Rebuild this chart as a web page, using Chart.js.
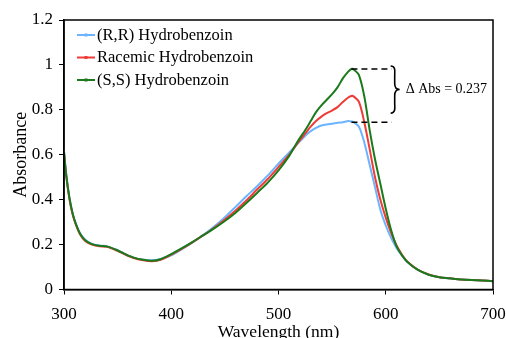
<!DOCTYPE html>
<html>
<head>
<meta charset="utf-8">
<script src="https://cdn.jsdelivr.net/npm/chart.js@4/dist/chart.umd.min.js"></script>
<style>
html,body{margin:0;padding:0;background:#fff;}
#wrap{width:506px;height:338px;position:relative;}
</style>
</head>
<body>
<div id="wrap"><canvas id="c" width="506" height="338"></canvas></div>
<script>
const wavelengths = [300,302,305,308,311,315,320,326,333,340,348,356,365,374,382,390,400,410,420,430,440,450,460,470,480,490,500,510,515,520,525,530,535,540,545,550,555,560,565,568,570,575,580,585,590,595,600,605,610,615,620,630,640,650,660,670,680,690,700];
const rrValues = [0.62,0.52,0.41,0.34,0.295,0.25,0.22,0.203,0.196,0.192,0.178,0.16,0.142,0.132,0.13,0.136,0.152,0.18,0.21,0.243,0.28,0.322,0.368,0.415,0.46,0.508,0.56,0.61,0.635,0.66,0.685,0.705,0.72,0.73,0.735,0.738,0.742,0.745,0.75,0.748,0.745,0.725,0.655,0.555,0.455,0.355,0.285,0.23,0.185,0.152,0.123,0.087,0.066,0.055,0.049,0.045,0.042,0.04,0.037];
const racemicValues = [0.61,0.51,0.405,0.335,0.29,0.245,0.215,0.2,0.192,0.19,0.176,0.158,0.14,0.13,0.126,0.132,0.155,0.182,0.211,0.242,0.275,0.312,0.352,0.396,0.445,0.492,0.545,0.6,0.633,0.665,0.695,0.725,0.75,0.77,0.785,0.797,0.812,0.835,0.855,0.862,0.86,0.835,0.745,0.625,0.5,0.4,0.32,0.252,0.197,0.156,0.125,0.088,0.067,0.055,0.05,0.045,0.042,0.04,0.037];
const ssValues = [0.61,0.51,0.41,0.34,0.292,0.248,0.218,0.202,0.195,0.192,0.178,0.16,0.142,0.132,0.128,0.135,0.158,0.184,0.212,0.242,0.272,0.305,0.342,0.385,0.43,0.476,0.53,0.595,0.636,0.675,0.71,0.75,0.79,0.82,0.845,0.87,0.9,0.94,0.97,0.982,0.98,0.955,0.86,0.71,0.58,0.47,0.36,0.265,0.193,0.153,0.124,0.087,0.066,0.055,0.05,0.045,0.042,0.04,0.037];
const seriesLabels = ['(R,R) Hydrobenzoin','Racemic Hydrobenzoin','(S,S) Hydrobenzoin'];
const seriesColors = ['#6CB4FF','#EE3B36','#1B7A1B'];
const xTicks = [300,400,500,600,700];
const yTicks = [0,0.2,0.4,0.6,0.8,1,1.2];
const deltaLabel = '\u0394 Abs = 0.237';
const deltaTop = 0.982, deltaBottom = 0.745, deltaX0 = 568, deltaX1 = 605.5;

const FONT = "'Liberation Serif','Times New Roman',serif";

function mk(vals){ return wavelengths.map((w,i)=>({x:w,y:vals[i]})); }

const legendPlugin = {
  id:'inLegend',
  afterDraw(chart){
    const ctx = chart.ctx;
    ctx.save();
    const x0 = 77, x1 = 95, ys = [35,57.5,80];
    chart.data.datasets.forEach((ds,i)=>{
      ctx.strokeStyle = ds.borderColor; ctx.lineWidth = 2;
      ctx.beginPath(); ctx.moveTo(x0,ys[i]); ctx.lineTo(x1,ys[i]); ctx.stroke();
      ctx.fillStyle = ds.borderColor;
      ctx.fillRect((x0+x1)/2-1.5, ys[i]-1.5, 3, 3);
      ctx.fillStyle = '#000';
      ctx.font = '16.5px ' + FONT;
      ctx.textBaseline = 'middle'; ctx.textAlign = 'left';
      ctx.fillText(ds.label, 97, ys[i]+0.5);
    });
    ctx.restore();
  }
};

const annotPlugin = {
  id:'annot',
  afterDatasetsDraw(chart){
    const ctx = chart.ctx, xs = chart.scales.x, ys = chart.scales.y, a = chart.chartArea;
    ctx.save();
    ctx.strokeStyle = '#000'; ctx.lineWidth = 1.5;
    ctx.strokeRect(a.left, a.top, a.right - a.left, a.bottom - a.top);
    const xa = xs.getPixelForValue(deltaX0), xb = xs.getPixelForValue(deltaX1);
    const yt = ys.getPixelForValue(deltaTop), yb = ys.getPixelForValue(deltaBottom);
    ctx.setLineDash([6,4]); ctx.lineWidth = 1.5; ctx.strokeStyle = '#000';
    ctx.beginPath(); ctx.moveTo(xa,yt); ctx.lineTo(xb,yt); ctx.moveTo(xa,yb); ctx.lineTo(xb,yb); ctx.stroke();
    ctx.setLineDash([]);
    const bx = xb - 1, top = yt - 3, bot = yb - 9, mid = (top+bot)/2, w = 9;
    ctx.lineWidth = 1.6;
    ctx.beginPath();
    ctx.moveTo(bx, top);
    ctx.bezierCurveTo(bx+w*0.6, top, bx+w*0.45, top+6, bx+w*0.45, top+10);
    ctx.lineTo(bx+w*0.45, mid-6);
    ctx.bezierCurveTo(bx+w*0.45, mid-2, bx+w*0.7, mid, bx+w, mid);
    ctx.bezierCurveTo(bx+w*0.7, mid, bx+w*0.45, mid+2, bx+w*0.45, mid+6);
    ctx.lineTo(bx+w*0.45, bot-10);
    ctx.bezierCurveTo(bx+w*0.45, bot-6, bx+w*0.6, bot, bx, bot);
    ctx.stroke();
    ctx.fillStyle = '#000';
    ctx.font = '14px ' + FONT;
    ctx.textAlign = 'left'; ctx.textBaseline = 'middle';
    ctx.fillText(deltaLabel, bx + w + 6, mid);
    ctx.restore();
  }
};

new Chart(document.getElementById('c'), {
  type:'line',
  data:{
    datasets:[
      {label:seriesLabels[0], data:mk(rrValues), borderColor:seriesColors[0], backgroundColor:seriesColors[0], order:2},
      {label:seriesLabels[1], data:mk(racemicValues), borderColor:seriesColors[1], backgroundColor:seriesColors[1], order:1},
      {label:seriesLabels[2], data:mk(ssValues), borderColor:seriesColors[2], backgroundColor:seriesColors[2], order:0}
    ]
  },
  options:{
    responsive:false, animation:false, devicePixelRatio:1,
    layout:{padding:{top:20,right:13,left:0,bottom:0}},
    elements:{line:{borderWidth:2,tension:0.3}, point:{radius:0}},
    plugins:{legend:{display:false}, tooltip:{enabled:false}},
    scales:{
      x:{
        type:'linear', min:300, max:700,
        afterBuildTicks(s){ s.ticks = xTicks.map(v=>({value:v})); },
        afterFit(s){ s.height = 48.5; s.paddingLeft = 0; s.paddingRight = 0; },
        grid:{display:true, drawOnChartArea:false, drawTicks:true, tickLength:5, color:'#000', lineWidth:1},
        border:{display:true, color:'#000', width:1.5},
        ticks:{color:'#000', font:{family:FONT, size:17}, padding:10, maxRotation:0},
        title:{display:true, text:'Wavelength (nm)', color:'#000', font:{family:FONT, size:17.5}, padding:{top:0,bottom:-5}}
      },
      y:{
        type:'linear', min:0, max:1.2,
        afterBuildTicks(s){ s.ticks = yTicks.map(v=>({value:v})); },
        afterFit(s){ s.width = 64; s.paddingTop = 0; s.paddingBottom = 0; },
        grid:{display:true, drawOnChartArea:false, drawTicks:true, tickLength:5, color:'#000', lineWidth:1},
        border:{display:true, color:'#000', width:1.5},
        ticks:{color:'#000', font:{family:FONT, size:17}, padding:6, callback:v=>String(v)},
        title:{display:true, text:'Absorbance', color:'#000', font:{family:FONT, size:18}, padding:{top:10,bottom:0}}
      }
    }
  },
  plugins:[legendPlugin, annotPlugin]
});
</script>
</body>
</html>
